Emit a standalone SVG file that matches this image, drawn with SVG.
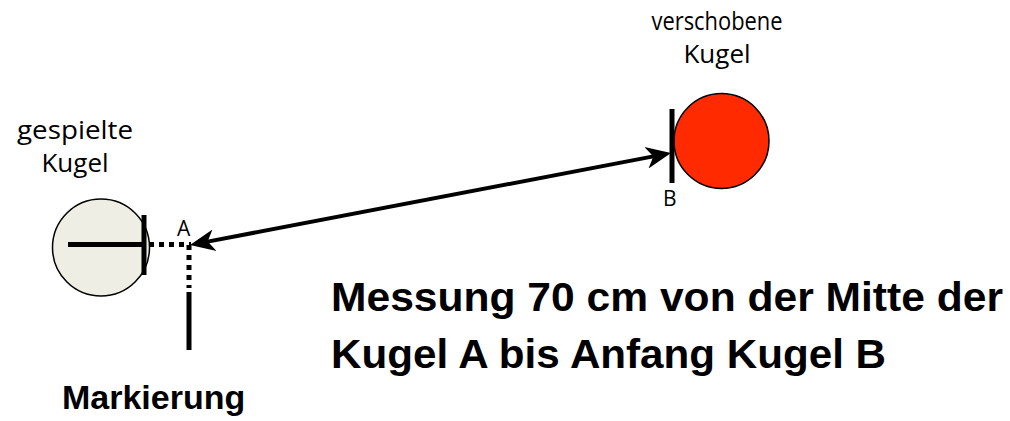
<svg xmlns="http://www.w3.org/2000/svg" width="1010" height="421" viewBox="0 0 1010 421">
  <style>
    .lbl { font-family: "Open Sans", "DejaVu Sans", sans-serif; font-size: 26px; fill: #000; text-anchor: middle; }
    .small { font-family: "Open Sans", "DejaVu Sans", sans-serif; font-size: 21px; fill: #000; }
    .big { font-family: "Liberation Sans", Arial, sans-serif; font-weight: bold; font-size: 41px; fill: #000; }
    .mark { font-family: "Liberation Sans", Arial, sans-serif; font-weight: bold; font-size: 34px; fill: #000; }
    .bar { stroke: #000; stroke-width: 5; fill: none; }
    .dots { stroke: #000; stroke-width: 5; fill: none; stroke-dasharray: 5 5; }
  </style>
  <defs>
    <marker id="head" viewBox="0 0 26 24" refX="15" refY="12" markerWidth="26" markerHeight="24" markerUnits="userSpaceOnUse" orient="auto-start-reverse">
      <path d="M0,1 L25,12 L0,23 L7,12 Z" fill="#000"/>
    </marker>
  </defs>
  <rect width="1010" height="421" fill="#fff"/>

  <g id="node-gespielte">
    <circle cx="101" cy="247.5" r="48.5" fill="#EEEEE4" stroke="#000" stroke-width="1.5"/>
    <line class="bar" x1="68" y1="244.5" x2="146" y2="244.5"/>
    <line class="bar" x1="144" y1="215" x2="144" y2="275"/>
    <text class="lbl" x="75" y="139" textLength="116" lengthAdjust="spacingAndGlyphs">gespielte</text>
    <text class="lbl" x="75" y="172">Kugel</text>
  </g>

  <g id="node-markierung">
    <line class="dots" x1="149" y1="244.5" x2="191" y2="244.5"/>
    <line class="dots" x1="189" y1="245" x2="189" y2="288"/>
    <line class="bar" x1="189" y1="292" x2="189" y2="350"/>
    <text class="small" x="177" y="236">A</text>
    <text class="mark" x="62" y="409">Markierung</text>
  </g>

  <g id="node-verschobene">
    <circle cx="721.5" cy="141" r="47.5" fill="#FF2A00" stroke="#000" stroke-width="1.5"/>
    <line class="bar" x1="672" y1="109" x2="672" y2="183"/>
    <text class="small" x="663" y="206">B</text>
    <text class="lbl" x="717" y="30" textLength="131" lengthAdjust="spacingAndGlyphs">verschobene</text>
    <text class="lbl" x="717" y="63">Kugel</text>
  </g>

  <g id="caption">
    <text class="big" x="331" y="311" textLength="672" lengthAdjust="spacingAndGlyphs">Messung 70 cm von der Mitte der</text>
    <text class="big" x="331" y="368" textLength="555" lengthAdjust="spacingAndGlyphs">Kugel A bis Anfang Kugel B</text>
  </g>

  <g id="connectors">
    <path d="M199.8,243.1 L661.2,154.9" stroke="#000" stroke-width="4" fill="none" marker-start="url(#head)" marker-end="url(#head)"/>
  </g>
</svg>
